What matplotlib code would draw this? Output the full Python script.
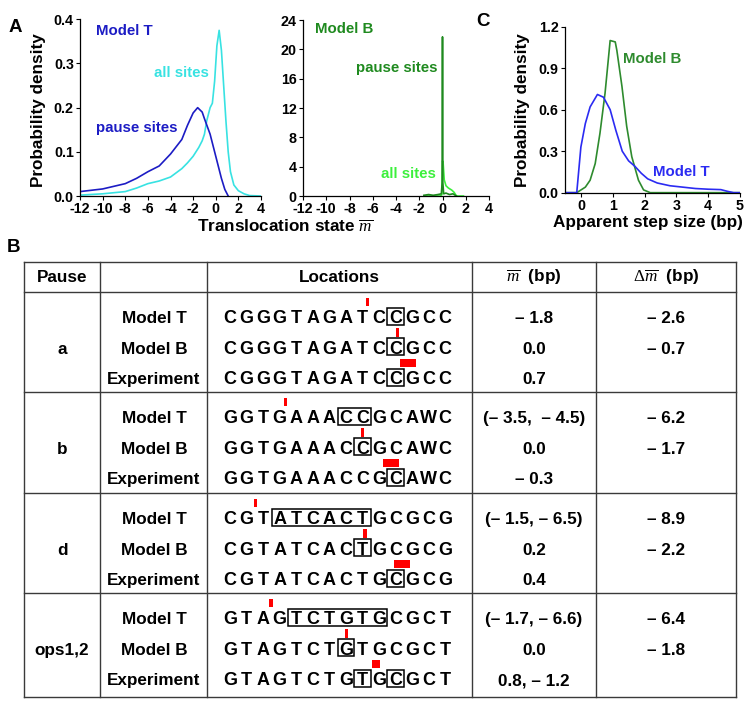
import matplotlib.pyplot as plt
from matplotlib.patches import Rectangle

plt.rcParams['font.family'] = ['Liberation Sans', 'DejaVu Sans']
plt.rcParams['axes.unicode_minus'] = False
plt.rcParams['mathtext.fontset'] = 'custom'
plt.rcParams['mathtext.it'] = 'Liberation Serif:italic'
plt.rcParams['mathtext.rm'] = 'Liberation Serif'

# ---- panel A, model T ----
t_all_x = [-12, -10, -8, -7, -6, -5, -4, -3, -2.5, -2, -1.5, -1.2, -1, -0.8, -0.5, -0.3,
           -0.1, 0.1, 0.3, 0.5, 0.7, 0.9, 1.1, 1.3, 1.6, 2, 2.5, 3, 4]
t_all_y = [0.002, 0.005, 0.01, 0.018, 0.028, 0.034, 0.043, 0.062, 0.075, 0.09, 0.11, 0.125,
           0.14, 0.17, 0.2, 0.21, 0.26, 0.34, 0.375, 0.33, 0.25, 0.17, 0.1, 0.055, 0.025,
           0.012, 0.005, 0.001, 0.0]
t_pause_x = [-12, -10, -8, -7, -6, -5, -4, -3, -2.5, -2, -1.6, -1.2, -1, -0.5, 0, 0.5, 0.8, 1.1]
t_pause_y = [0.01, 0.016, 0.028, 0.04, 0.055, 0.068, 0.095, 0.128, 0.16, 0.188, 0.2, 0.19,
             0.175, 0.14, 0.09, 0.04, 0.015, 0.0]

# ---- panel A, model B ----
b_all_x = [-1.6, -1.0, -0.2, -0.05, 0.0, 0.05, 0.15, 0.3, 0.5, 0.8, 1.0, 1.2, 1.8]
b_all_y = [0.0, 0.0, 0.0, 0.2, 4.8, 4.6, 2.2, 1.4, 1.1, 0.8, 0.5, 0.0, 0.0]
b_pause_x = [-1.6, -1.2, -0.8, -0.4, -0.1, -0.02, 0.0, 0.02, 0.1, 0.3, 0.6, 0.9, 1.2]
b_pause_y = [0.1, 0.2, 0.1, 0.2, 0.3, 2.0, 21.7, 2.0, 0.3, 0.4, 0.2, 0.3, 0.0]

# ---- panel C ----
c_t_x = [-0.5, -0.13, 0.0, 0.14, 0.29, 0.52, 0.71, 0.92, 1.1, 1.3, 1.5, 1.7, 1.9, 2.1, 2.4,
         2.8, 3.2, 3.6, 4.0, 4.4, 4.6, 4.8, 5.0]
c_t_y = [0.0, 0.0, 0.33, 0.5, 0.62, 0.71, 0.69, 0.6, 0.45, 0.3, 0.23, 0.19, 0.14, 0.1,
         0.07, 0.05, 0.04, 0.03, 0.025, 0.022, 0.01, 0.0, 0.0]
c_b_x = [-0.5, -0.13, 0.14, 0.29, 0.45, 0.6, 0.76, 0.92, 1.08, 1.13, 1.29, 1.44, 1.6,
         1.81, 1.97, 2.18, 5.0]
c_b_y = [0.0, 0.0, 0.04, 0.09, 0.21, 0.43, 0.72, 1.1, 1.09, 1.03, 0.77, 0.48, 0.26,
         0.09, 0.02, 0.0, 0.0]

# ---- panel B table ----
pauses = ['a', 'b', 'd', 'ops1,2']
row_labels = ['Model T', 'Model B', 'Experiment']
sequences = ['CGGGTAGATCCGCC', 'GGTGAAACCGCAWC', 'CGTATCACTGCGCG', 'GTAGTCTGTGCGCT']
boxes = [[[(10, 10)], [(10, 10)], [(10, 10)]],
         [[(7, 8)], [(8, 8)], [(10, 10)]],
         [[(3, 8)], [(8, 8)], [(10, 10)]],
         [[(4, 9)], [(7, 7)], [(8, 8), (10, 10)]]]
# red marks: (centre in letter units, width in letter units)
marks = [[(8.3, 0.2), (10.1, 0.2), (10.75, 0.95)],
         [(3.37, 0.2), (8.0, 0.2), (9.73, 0.95)],
         [(1.55, 0.2), (8.16, 0.2), (10.4, 1.0)],
         [(2.48, 0.2), (7.05, 0.2), (8.8, 0.5)]]
mbar = [['\u2013 1.8', '0.0', '0.7'],
        ['(\u2013 3.5,  \u2013 4.5)', '0.0', '\u2013 0.3'],
        ['(\u2013 1.5, \u2013 6.5)', '0.2', '0.4'],
        ['(\u2013 1.7, \u2013 6.6)', '0.0', '0.8, \u2013 1.2']]
dmbar = [['\u2013 2.6', '\u2013 0.7'],
         ['\u2013 6.2', '\u2013 1.7'],
         ['\u2013 8.9', '\u2013 2.2'],
         ['\u2013 6.4', '\u2013 1.8']]

blue_dark = '#1c1cc4'
cyan = '#38e2e2'
green = '#1f8a1f'
lime = '#3cf03c'

fig = plt.figure(figsize=(7.5, 7.12), dpi=100)

# overlay in pixel coords for table and labels
tab = fig.add_axes([0, 0, 1, 1])
tab.set_xlim(0, 750)
tab.set_ylim(712, 0)
tab.axis('off')


def style(ax):
    for s in ['top', 'right']:
        ax.spines[s].set_visible(False)
    for s in ['left', 'bottom']:
        ax.spines[s].set_linewidth(0.9)
    ax.tick_params(direction='out', length=3, width=0.8, labelsize=10.3, pad=1.5)
    for lab in ax.get_xticklabels() + ax.get_yticklabels():
        lab.set_fontweight('bold')
    ax.patch.set_alpha(0)


ax1 = fig.add_axes([0.1067, 0.7247, 0.2413, 0.2482])
ax1.plot(t_all_x, t_all_y, color=cyan, lw=1.2)
ax1.plot(t_pause_x, t_pause_y, color=blue_dark, lw=1.2)
ax1.set_xlim(-12, 4)
ax1.set_ylim(0, 0.4)
ax1.set_xticks(range(-12, 5, 2))
ax1.set_yticks([0.0, 0.1, 0.2, 0.3, 0.4])
ax1.set_yticklabels(['0.0', '0.1', '0.2', '0.3', '0.4'])
style(ax1)
ax1.text(-10.6, 0.373, 'Model T', color=blue_dark, fontsize=10.8, fontweight='bold', va='center')
ax1.text(-5.45, 0.279, 'all sites', color=cyan, fontsize=10.8, fontweight='bold', va='center')
ax1.text(-10.6, 0.154, 'pause sites', color=blue_dark, fontsize=10.8, fontweight='bold', va='center')

ax2 = fig.add_axes([0.404, 0.7247, 0.248, 0.2472])
ax2.plot(b_all_x, b_all_y, color=lime, lw=1.2)
ax2.plot(b_pause_x, b_pause_y, color=green, lw=1.2)
ax2.set_xlim(-12, 4)
ax2.set_ylim(0, 24)
ax2.set_xticks(range(-12, 5, 2))
ax2.set_yticks(range(0, 25, 4))
style(ax2)
ax2.text(-10.97, 22.8, 'Model B', color=green, fontsize=10.8, fontweight='bold', va='center')
ax2.text(-7.47, 17.5, 'pause sites', color=green, fontsize=10.8, fontweight='bold', va='center')
ax2.text(-5.3, 3.0, 'all sites', color=lime, fontsize=10.8, fontweight='bold', va='center')

ax3 = fig.add_axes([0.7533, 0.7294, 0.2333, 0.2331])
ax3.plot(c_b_x, c_b_y, color='#2e8b2e', lw=1.2)
ax3.plot(c_t_x, c_t_y, color='#2b2bf2', lw=1.2)
ax3.set_xlim(-0.5, 5)
ax3.set_ylim(0, 1.2)
ax3.set_xticks(range(0, 6))
ax3.set_yticks([0.0, 0.3, 0.6, 0.9, 1.2])
ax3.set_yticklabels(['0.0', '0.3', '0.6', '0.9', '1.2'])
style(ax3)
ax3.text(1.33, 0.967, 'Model B', color='#2e8b2e', fontsize=10.8, fontweight='bold', va='center')
ax3.text(2.27, 0.15, 'Model T', color='#2b2bf2', fontsize=10.8, fontweight='bold', va='center')

# axis titles and panel letters
tab.text(39, 110, 'Probability density', rotation=90, ha='center', va='center',
         fontsize=12.3, fontweight='bold')
tab.text(522, 110, 'Probability density', rotation=90, ha='center', va='center',
         fontsize=12.3, fontweight='bold')
tab.text(285, 227, 'Translocation state $\\overline{m}$', ha='center', va='center',
         fontsize=12.3, fontweight='bold')
tab.text(648, 222, 'Apparent step size (bp)', ha='center', va='center',
         fontsize=12.3, fontweight='bold')
tab.text(15, 27, 'A', ha='center', va='center', fontsize=13.5, fontweight='bold')
tab.text(14, 247, 'B', ha='center', va='center', fontsize=13.5, fontweight='bold')
tab.text(483, 21, 'C', ha='center', va='center', fontsize=13.5, fontweight='bold')

# table grid
col_x = [24, 100, 207, 472, 596, 736]
row_edges = [262, 292, 392, 493, 593, 697]
line_kw = dict(color='#3a3a3a', lw=1.0)
for y in row_edges:
    tab.plot([col_x[0], col_x[-1]], [y, y], **line_kw)
for x in col_x:
    tab.plot([x, x], [row_edges[0], row_edges[-1]], **line_kw)

head_y = 277
tab.text(62, head_y, 'Pause', ha='center', va='center', fontsize=12.3, fontweight='bold')
tab.text(339, head_y, 'Locations', ha='center', va='center', fontsize=12.3, fontweight='bold')
tab.text(534, head_y, '$\\overline{m}$  (bp)', ha='center', va='center', fontsize=12.3,
         fontweight='bold')
tab.text(666, head_y, '$\\Delta\\overline{m}$  (bp)', ha='center', va='center', fontsize=12.3,
         fontweight='bold')

seq_x0 = 230
seq_dx = 16.55
for k, name in enumerate(pauses):
    top = row_edges[k + 1]
    ys = [top + 25 + 30.7 * j for j in range(3)]
    tab.text(62, ys[1] + 6, name, ha='center', va='baseline', fontsize=12.3, fontweight='bold')
    for j, lab in enumerate(row_labels):
        y = ys[j]
        tab.text(154, y + 6, lab, ha='center', va='baseline', fontsize=12.3, fontweight='bold')
        for i, ch in enumerate(sequences[k]):
            tab.text(seq_x0 + i * seq_dx, y + 6, ch, ha='center', va='baseline',
                     fontsize=13, fontweight='bold')
        for i0, i1 in boxes[k][j]:
            x0 = seq_x0 + (i0 - 0.49) * seq_dx
            w = (i1 - i0 + 0.98) * seq_dx
            tab.add_patch(Rectangle((x0, y - 9.5), w, 17, fill=False, ec='black', lw=1.1))
        c, w = marks[k][j]
        tab.add_patch(Rectangle((seq_x0 + (c - w / 2) * seq_dx, y - 19.5), w * seq_dx, 8.5,
                                fc='red', ec='none'))
        tab.text(534, y + 6, mbar[k][j], ha='center', va='baseline', fontsize=12.3,
                 fontweight='bold')
        if j < 2:
            tab.text(666, y + 6, dmbar[k][j], ha='center', va='baseline', fontsize=12.3,
                     fontweight='bold')

fig.savefig('out.png', dpi=100)
